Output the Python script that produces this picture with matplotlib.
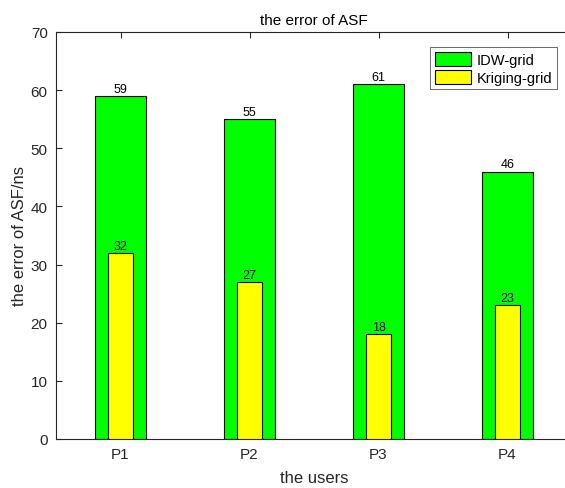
import matplotlib.pyplot as plt
import numpy as np

plt.rcParams['font.family'] = ['Liberation Sans', 'DejaVu Sans']

# error of ASF per user (ns)
users = ['P1', 'P2', 'P3', 'P4']
idw_grid = [59, 55, 61, 46]
kriging_grid = [32, 27, 18, 23]

x = np.arange(1, len(users) + 1)
axis_color = '#262626'

fig = plt.figure(figsize=(5.65, 4.89), dpi=100)
# right edge runs past the figure, so the right side of the box is cut off
ax = fig.add_axes([56 / 565, 49 / 489, 516 / 565, 407 / 489])
ax.patch.set_visible(False)

ax.bar(x, idw_grid, width=0.4, color='#00ff00', edgecolor='black',
       linewidth=0.8, label='IDW-grid', zorder=2)
ax.bar(x, kriging_grid, width=0.2, color='#ffff00', edgecolor='black',
       linewidth=0.8, label='Kriging-grid', zorder=3)

for xi, v in zip(x, idw_grid):
    ax.text(xi, v + 0.2, str(v), ha='center', va='bottom', fontsize=9)
for xi, v in zip(x, kriging_grid):
    ax.text(xi, v + 0.2, str(v), ha='center', va='bottom', fontsize=9)

ax.set_xlim(0.5, 4.5)
ax.set_ylim(0, 70)
ax.set_xticks(x)
ax.set_xticklabels(users)
ax.set_yticks(np.arange(0, 71, 10))
ax.tick_params(direction='in', length=4, width=0.8, colors=axis_color,
               labelsize=11, top=True, right=False, pad=6)
ax.tick_params(axis='y', which='both', right=False)
for s in ax.spines.values():
    s.set_color(axis_color)
    s.set_linewidth(0.8)
ax.spines['right'].set_visible(False)

ax.set_title('the error of ASF', fontsize=11, pad=6)
ax.set_xlabel('the users', fontsize=12, color=axis_color, labelpad=6)
ax.set_ylabel('the error of ASF/ns', fontsize=12, color=axis_color, labelpad=3)

leg = ax.legend(loc='upper right', bbox_to_anchor=(501 / 516, 0.962),
                fontsize=10.5, frameon=True, fancybox=False, edgecolor=axis_color,
                handlelength=2.5, handleheight=1.15, borderpad=0.3,
                labelspacing=0.2, handletextpad=0.4, borderaxespad=0)
leg.get_frame().set_linewidth(0.6)

fig.savefig('out.png', dpi=100)
